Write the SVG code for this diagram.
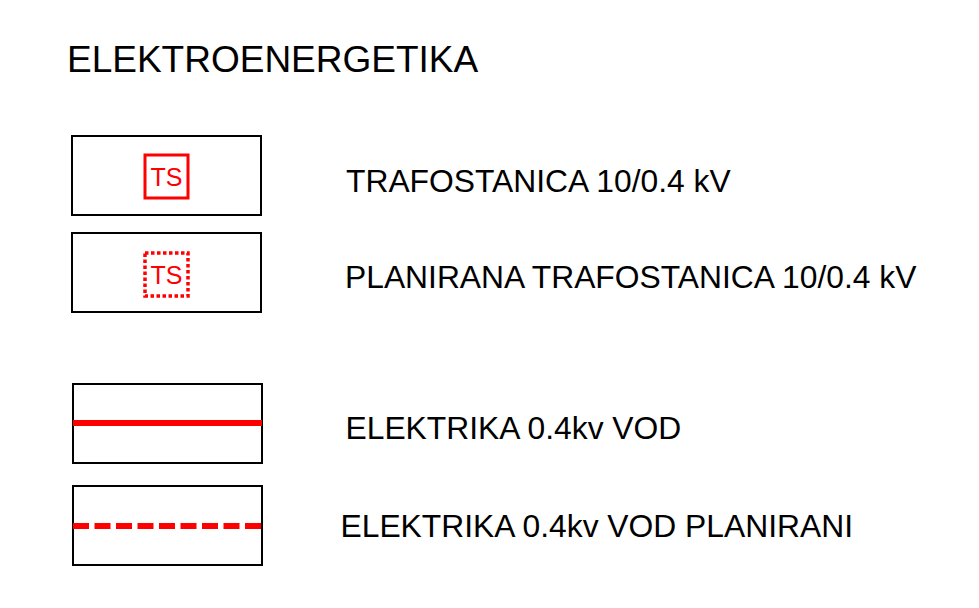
<svg xmlns="http://www.w3.org/2000/svg" width="979" height="608" viewBox="0 0 979 608">
<style>
.frame{fill:#fff;stroke:#000;stroke-width:2}
.lbl{font-family:"Liberation Sans",Arial,sans-serif;font-size:31.8px;fill:#000}
.ts{font-family:"Liberation Sans",Arial,sans-serif;font-size:25px;fill:#f00;text-anchor:middle}
.red{stroke:#f00;fill:none}
</style>
<rect width="979" height="608" fill="#fff"/>
<text id="title" x="67" y="72" font-family="Liberation Sans, Arial, sans-serif" font-size="37" fill="#000">ELEKTROENERGETIKA</text>
<g id="legend-ts">
<rect class="frame" x="72" y="136" width="189" height="79"/>
<rect x="145" y="155" width="43" height="43" fill="#f8f8f8" class="red" stroke-width="3"/>
<text class="ts" x="166.5" y="185.5">TS</text>
<text class="lbl" x="346" y="192">TRAFOSTANICA 10/0.4 kV</text>
</g>
<g id="legend-ts-planned">
<rect class="frame" x="72" y="233" width="189" height="79"/>
<rect x="145" y="253" width="43" height="43" fill="#f8f8f8" class="red" stroke-width="3.5" stroke-dasharray="3.5 2.5"/>
<text class="ts" x="166.5" y="283.5">TS</text>
<text class="lbl" x="345" y="288">PLANIRANA TRAFOSTANICA 10/0.4 kV</text>
</g>
<g id="legend-line">
<rect class="frame" x="73" y="384" width="189" height="79"/>
<line class="red" x1="73" y1="423" x2="262" y2="423" stroke-width="6"/>
<text class="lbl" x="345.5" y="439">ELEKTRIKA 0.4kv VOD</text>
</g>
<g id="legend-line-planned">
<rect class="frame" x="73" y="486" width="189" height="79"/>
<line class="red" x1="73" y1="526" x2="262" y2="526" stroke-width="6" stroke-dasharray="16 5.5"/>
<text class="lbl" x="340.5" y="537">ELEKTRIKA 0.4kv VOD PLANIRANI</text>
</g>
<g id="connectors"></g>
</svg>
